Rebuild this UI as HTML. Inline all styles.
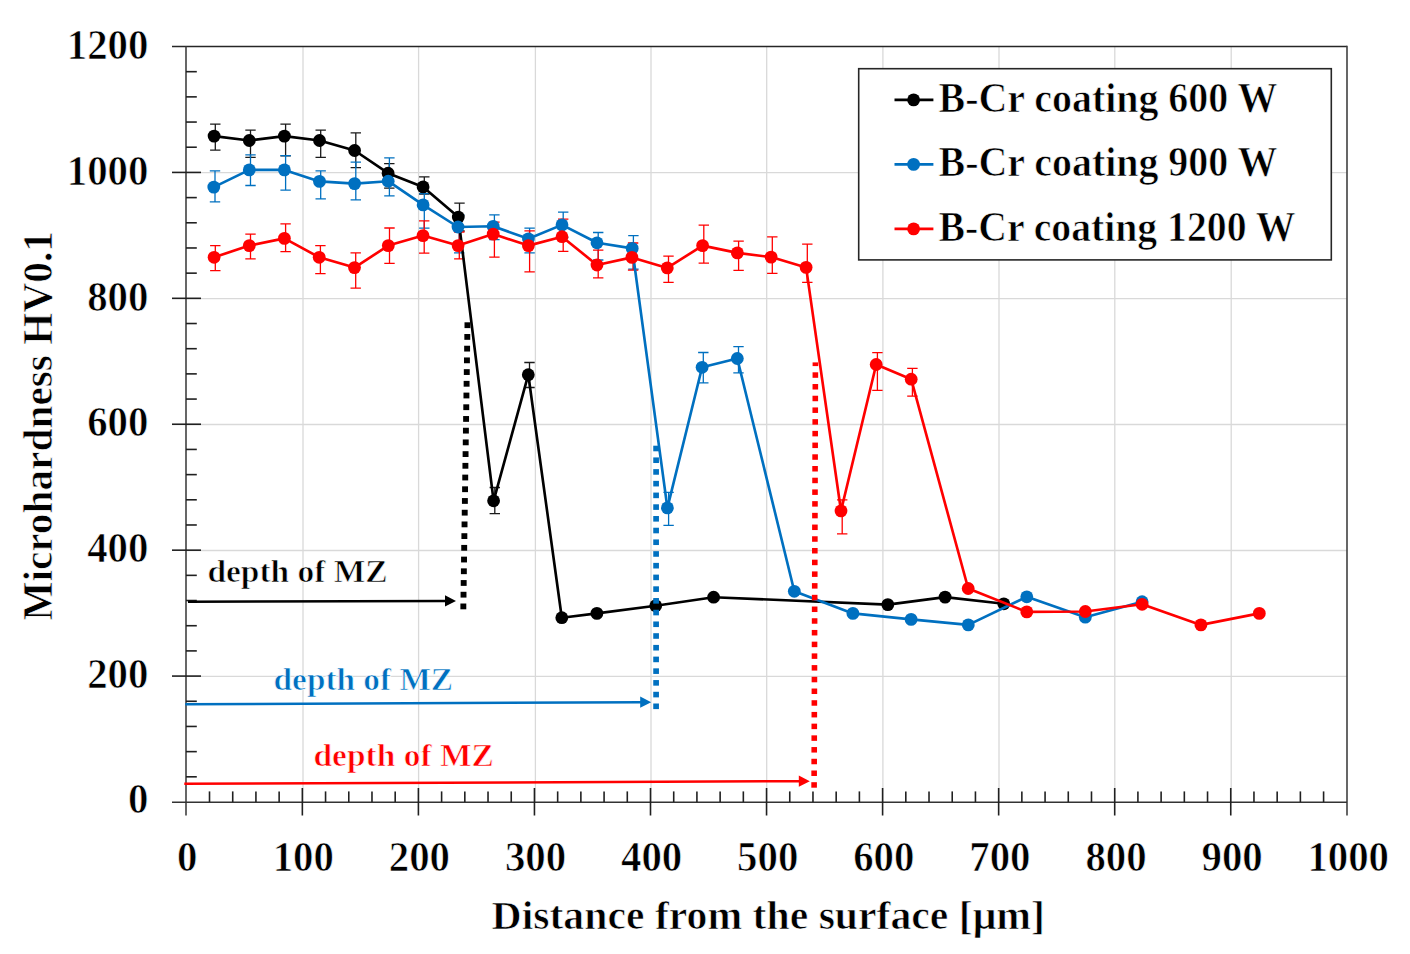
<!DOCTYPE html>
<html><head><meta charset="utf-8"><title>Microhardness chart</title>
<style>
html,body{margin:0;padding:0;background:#fff;}
svg{display:block;}
text{fill:#000;stroke:#fff;stroke-width:0.7px;}
</style></head>
<body>
<svg width="1410" height="954" viewBox="0 0 1410 954">
<rect width="1410" height="954" fill="#fff"/>
<line x1="303.0" y1="46.5" x2="303.0" y2="802.0" stroke="#D9D9D9" stroke-width="1.3"/>
<line x1="418.6" y1="46.5" x2="418.6" y2="802.0" stroke="#D9D9D9" stroke-width="1.3"/>
<line x1="535.4" y1="46.5" x2="535.4" y2="802.0" stroke="#D9D9D9" stroke-width="1.3"/>
<line x1="651.0" y1="46.5" x2="651.0" y2="802.0" stroke="#D9D9D9" stroke-width="1.3"/>
<line x1="766.7" y1="46.5" x2="766.7" y2="802.0" stroke="#D9D9D9" stroke-width="1.3"/>
<line x1="882.9" y1="46.5" x2="882.9" y2="802.0" stroke="#D9D9D9" stroke-width="1.3"/>
<line x1="999.0" y1="46.5" x2="999.0" y2="802.0" stroke="#D9D9D9" stroke-width="1.3"/>
<line x1="1114.8" y1="46.5" x2="1114.8" y2="802.0" stroke="#D9D9D9" stroke-width="1.3"/>
<line x1="1231.2" y1="46.5" x2="1231.2" y2="802.0" stroke="#D9D9D9" stroke-width="1.3"/>
<line x1="186" y1="676.4" x2="1347.0" y2="676.4" stroke="#D9D9D9" stroke-width="1.3"/>
<line x1="186" y1="550.5" x2="1347.0" y2="550.5" stroke="#D9D9D9" stroke-width="1.3"/>
<line x1="186" y1="424.5" x2="1347.0" y2="424.5" stroke="#D9D9D9" stroke-width="1.3"/>
<line x1="186" y1="298.6" x2="1347.0" y2="298.6" stroke="#D9D9D9" stroke-width="1.3"/>
<line x1="186" y1="172.7" x2="1347.0" y2="172.7" stroke="#D9D9D9" stroke-width="1.3"/>
<line x1="172" y1="46.5" x2="1347.0" y2="46.5" stroke="#262626" stroke-width="1.6"/>
<line x1="1347.0" y1="45.7" x2="1347.0" y2="815.5" stroke="#404040" stroke-width="1.6"/>
<line x1="186" y1="46.5" x2="186" y2="815.5" stroke="#404040" stroke-width="1.6"/>
<line x1="172" y1="802.3" x2="1347.0" y2="802.3" stroke="#333" stroke-width="1.6"/>
<line x1="186" y1="776.82" x2="196.8" y2="776.82" stroke="#202020" stroke-width="1.6"/>
<line x1="186" y1="751.63" x2="196.8" y2="751.63" stroke="#202020" stroke-width="1.6"/>
<line x1="186" y1="726.45" x2="196.8" y2="726.45" stroke="#202020" stroke-width="1.6"/>
<line x1="186" y1="701.27" x2="196.8" y2="701.27" stroke="#202020" stroke-width="1.6"/>
<line x1="172" y1="676.08" x2="201" y2="676.08" stroke="#202020" stroke-width="1.6"/>
<line x1="186" y1="650.9" x2="196.8" y2="650.9" stroke="#202020" stroke-width="1.6"/>
<line x1="186" y1="625.72" x2="196.8" y2="625.72" stroke="#202020" stroke-width="1.6"/>
<line x1="186" y1="600.53" x2="196.8" y2="600.53" stroke="#202020" stroke-width="1.6"/>
<line x1="186" y1="575.35" x2="196.8" y2="575.35" stroke="#202020" stroke-width="1.6"/>
<line x1="172" y1="550.17" x2="201" y2="550.17" stroke="#202020" stroke-width="1.6"/>
<line x1="186" y1="524.98" x2="196.8" y2="524.98" stroke="#202020" stroke-width="1.6"/>
<line x1="186" y1="499.8" x2="196.8" y2="499.8" stroke="#202020" stroke-width="1.6"/>
<line x1="186" y1="474.62" x2="196.8" y2="474.62" stroke="#202020" stroke-width="1.6"/>
<line x1="186" y1="449.43" x2="196.8" y2="449.43" stroke="#202020" stroke-width="1.6"/>
<line x1="172" y1="424.25" x2="201" y2="424.25" stroke="#202020" stroke-width="1.6"/>
<line x1="186" y1="399.07" x2="196.8" y2="399.07" stroke="#202020" stroke-width="1.6"/>
<line x1="186" y1="373.88" x2="196.8" y2="373.88" stroke="#202020" stroke-width="1.6"/>
<line x1="186" y1="348.7" x2="196.8" y2="348.7" stroke="#202020" stroke-width="1.6"/>
<line x1="186" y1="323.52" x2="196.8" y2="323.52" stroke="#202020" stroke-width="1.6"/>
<line x1="172" y1="298.33" x2="201" y2="298.33" stroke="#202020" stroke-width="1.6"/>
<line x1="186" y1="273.15" x2="196.8" y2="273.15" stroke="#202020" stroke-width="1.6"/>
<line x1="186" y1="247.97" x2="196.8" y2="247.97" stroke="#202020" stroke-width="1.6"/>
<line x1="186" y1="222.78" x2="196.8" y2="222.78" stroke="#202020" stroke-width="1.6"/>
<line x1="186" y1="197.6" x2="196.8" y2="197.6" stroke="#202020" stroke-width="1.6"/>
<line x1="172" y1="172.42" x2="201" y2="172.42" stroke="#202020" stroke-width="1.6"/>
<line x1="186" y1="147.23" x2="196.8" y2="147.23" stroke="#202020" stroke-width="1.6"/>
<line x1="186" y1="122.05" x2="196.8" y2="122.05" stroke="#202020" stroke-width="1.6"/>
<line x1="186" y1="96.87" x2="196.8" y2="96.87" stroke="#202020" stroke-width="1.6"/>
<line x1="186" y1="71.68" x2="196.8" y2="71.68" stroke="#202020" stroke-width="1.6"/>
<line x1="209.51" y1="791.4" x2="209.51" y2="802.0" stroke="#202020" stroke-width="1.6"/>
<line x1="232.72" y1="791.4" x2="232.72" y2="802.0" stroke="#202020" stroke-width="1.6"/>
<line x1="255.93" y1="791.4" x2="255.93" y2="802.0" stroke="#202020" stroke-width="1.6"/>
<line x1="279.14" y1="791.4" x2="279.14" y2="802.0" stroke="#202020" stroke-width="1.6"/>
<line x1="302.35" y1="788" x2="302.35" y2="815.5" stroke="#202020" stroke-width="1.6"/>
<line x1="325.56" y1="791.4" x2="325.56" y2="802.0" stroke="#202020" stroke-width="1.6"/>
<line x1="348.77" y1="791.4" x2="348.77" y2="802.0" stroke="#202020" stroke-width="1.6"/>
<line x1="371.98" y1="791.4" x2="371.98" y2="802.0" stroke="#202020" stroke-width="1.6"/>
<line x1="395.19" y1="791.4" x2="395.19" y2="802.0" stroke="#202020" stroke-width="1.6"/>
<line x1="418.4" y1="788" x2="418.4" y2="815.5" stroke="#202020" stroke-width="1.6"/>
<line x1="441.61" y1="791.4" x2="441.61" y2="802.0" stroke="#202020" stroke-width="1.6"/>
<line x1="464.82" y1="791.4" x2="464.82" y2="802.0" stroke="#202020" stroke-width="1.6"/>
<line x1="488.03" y1="791.4" x2="488.03" y2="802.0" stroke="#202020" stroke-width="1.6"/>
<line x1="511.24" y1="791.4" x2="511.24" y2="802.0" stroke="#202020" stroke-width="1.6"/>
<line x1="534.45" y1="788" x2="534.45" y2="815.5" stroke="#202020" stroke-width="1.6"/>
<line x1="557.66" y1="791.4" x2="557.66" y2="802.0" stroke="#202020" stroke-width="1.6"/>
<line x1="580.87" y1="791.4" x2="580.87" y2="802.0" stroke="#202020" stroke-width="1.6"/>
<line x1="604.08" y1="791.4" x2="604.08" y2="802.0" stroke="#202020" stroke-width="1.6"/>
<line x1="627.29" y1="791.4" x2="627.29" y2="802.0" stroke="#202020" stroke-width="1.6"/>
<line x1="650.5" y1="788" x2="650.5" y2="815.5" stroke="#202020" stroke-width="1.6"/>
<line x1="673.71" y1="791.4" x2="673.71" y2="802.0" stroke="#202020" stroke-width="1.6"/>
<line x1="696.92" y1="791.4" x2="696.92" y2="802.0" stroke="#202020" stroke-width="1.6"/>
<line x1="720.13" y1="791.4" x2="720.13" y2="802.0" stroke="#202020" stroke-width="1.6"/>
<line x1="743.34" y1="791.4" x2="743.34" y2="802.0" stroke="#202020" stroke-width="1.6"/>
<line x1="766.55" y1="788" x2="766.55" y2="815.5" stroke="#202020" stroke-width="1.6"/>
<line x1="789.76" y1="791.4" x2="789.76" y2="802.0" stroke="#202020" stroke-width="1.6"/>
<line x1="812.97" y1="791.4" x2="812.97" y2="802.0" stroke="#202020" stroke-width="1.6"/>
<line x1="836.18" y1="791.4" x2="836.18" y2="802.0" stroke="#202020" stroke-width="1.6"/>
<line x1="859.39" y1="791.4" x2="859.39" y2="802.0" stroke="#202020" stroke-width="1.6"/>
<line x1="882.6" y1="788" x2="882.6" y2="815.5" stroke="#202020" stroke-width="1.6"/>
<line x1="905.81" y1="791.4" x2="905.81" y2="802.0" stroke="#202020" stroke-width="1.6"/>
<line x1="929.02" y1="791.4" x2="929.02" y2="802.0" stroke="#202020" stroke-width="1.6"/>
<line x1="952.23" y1="791.4" x2="952.23" y2="802.0" stroke="#202020" stroke-width="1.6"/>
<line x1="975.44" y1="791.4" x2="975.44" y2="802.0" stroke="#202020" stroke-width="1.6"/>
<line x1="998.65" y1="788" x2="998.65" y2="815.5" stroke="#202020" stroke-width="1.6"/>
<line x1="1021.86" y1="791.4" x2="1021.86" y2="802.0" stroke="#202020" stroke-width="1.6"/>
<line x1="1045.07" y1="791.4" x2="1045.07" y2="802.0" stroke="#202020" stroke-width="1.6"/>
<line x1="1068.28" y1="791.4" x2="1068.28" y2="802.0" stroke="#202020" stroke-width="1.6"/>
<line x1="1091.49" y1="791.4" x2="1091.49" y2="802.0" stroke="#202020" stroke-width="1.6"/>
<line x1="1114.7" y1="788" x2="1114.7" y2="815.5" stroke="#202020" stroke-width="1.6"/>
<line x1="1137.91" y1="791.4" x2="1137.91" y2="802.0" stroke="#202020" stroke-width="1.6"/>
<line x1="1161.12" y1="791.4" x2="1161.12" y2="802.0" stroke="#202020" stroke-width="1.6"/>
<line x1="1184.33" y1="791.4" x2="1184.33" y2="802.0" stroke="#202020" stroke-width="1.6"/>
<line x1="1207.54" y1="791.4" x2="1207.54" y2="802.0" stroke="#202020" stroke-width="1.6"/>
<line x1="1230.75" y1="788" x2="1230.75" y2="815.5" stroke="#202020" stroke-width="1.6"/>
<line x1="1253.96" y1="791.4" x2="1253.96" y2="802.0" stroke="#202020" stroke-width="1.6"/>
<line x1="1277.17" y1="791.4" x2="1277.17" y2="802.0" stroke="#202020" stroke-width="1.6"/>
<line x1="1300.38" y1="791.4" x2="1300.38" y2="802.0" stroke="#202020" stroke-width="1.6"/>
<line x1="1323.59" y1="791.4" x2="1323.59" y2="802.0" stroke="#202020" stroke-width="1.6"/>
<path d="M215.3 124.2V150.1M210.10000000000002 124.2H220.5M210.10000000000002 150.1H220.5" stroke="#1a1a1a" stroke-width="1.3" fill="none"/>
<path d="M250.5 130.1V157.4M245.3 130.1H255.7M245.3 157.4H255.7" stroke="#1a1a1a" stroke-width="1.3" fill="none"/>
<path d="M285.6 124.2V155.9M280.40000000000003 124.2H290.8M280.40000000000003 155.9H290.8" stroke="#1a1a1a" stroke-width="1.3" fill="none"/>
<path d="M320.7 130.1V157.4M315.5 130.1H325.9M315.5 157.4H325.9" stroke="#1a1a1a" stroke-width="1.3" fill="none"/>
<path d="M355.8 132.9V167.6M350.6 132.9H361.0M350.6 167.6H361.0" stroke="#1a1a1a" stroke-width="1.3" fill="none"/>
<path d="M389.3 163.6V188.2M384.1 163.6H394.5M384.1 188.2H394.5" stroke="#1a1a1a" stroke-width="1.3" fill="none"/>
<path d="M424.3 176.9V194.0M419.1 176.9H429.5M419.1 194.0H429.5" stroke="#1a1a1a" stroke-width="1.3" fill="none"/>
<path d="M459.5 203.2V231.0M454.3 203.2H464.7M454.3 231.0H464.7" stroke="#1a1a1a" stroke-width="1.3" fill="none"/>
<path d="M494.8 487.5V513.6M489.6 487.5H500.0M489.6 513.6H500.0" stroke="#1a1a1a" stroke-width="1.3" fill="none"/>
<path d="M529.5 362.5V387.5M524.3 362.5H534.7M524.3 387.5H534.7" stroke="#1a1a1a" stroke-width="1.3" fill="none"/>
<path d="M215.0 170.9V201.8M209.8 170.9H220.2M209.8 201.8H220.2" stroke="#0070C0" stroke-width="1.3" fill="none"/>
<path d="M250.5 154.8V185.5M245.3 154.8H255.7M245.3 185.5H255.7" stroke="#0070C0" stroke-width="1.3" fill="none"/>
<path d="M285.6 155.6V190.1M280.40000000000003 155.6H290.8M280.40000000000003 190.1H290.8" stroke="#0070C0" stroke-width="1.3" fill="none"/>
<path d="M320.7 170.9V198.9M315.5 170.9H325.9M315.5 198.9H325.9" stroke="#0070C0" stroke-width="1.3" fill="none"/>
<path d="M355.8 162.2V199.9M350.6 162.2H361.0M350.6 199.9H361.0" stroke="#0070C0" stroke-width="1.3" fill="none"/>
<path d="M389.4 157.8V195.8M384.2 157.8H394.59999999999997M384.2 195.8H394.59999999999997" stroke="#0070C0" stroke-width="1.3" fill="none"/>
<path d="M424.3 193.6V228.1M419.1 193.6H429.5M419.1 228.1H429.5" stroke="#0070C0" stroke-width="1.3" fill="none"/>
<path d="M459.2 215.0V252.9M454.0 215.0H464.4M454.0 252.9H464.4" stroke="#0070C0" stroke-width="1.3" fill="none"/>
<path d="M494.4 214.9V239.6M489.2 214.9H499.59999999999997M489.2 239.6H499.59999999999997" stroke="#0070C0" stroke-width="1.3" fill="none"/>
<path d="M529.6 228.1V252.9M524.4 228.1H534.8000000000001M524.4 252.9H534.8000000000001" stroke="#0070C0" stroke-width="1.3" fill="none"/>
<path d="M563.2 212.1V237.5M558.0 212.1H568.4000000000001M558.0 237.5H568.4000000000001" stroke="#0070C0" stroke-width="1.3" fill="none"/>
<path d="M598.2 232.5V260.0M593.0 232.5H603.4000000000001M593.0 260.0H603.4000000000001" stroke="#0070C0" stroke-width="1.3" fill="none"/>
<path d="M633.4 235.6V269.2M628.1999999999999 235.6H638.6M628.1999999999999 269.2H638.6" stroke="#0070C0" stroke-width="1.3" fill="none"/>
<path d="M668.6 492.4V525.3M663.4 492.4H673.8000000000001M663.4 525.3H673.8000000000001" stroke="#0070C0" stroke-width="1.3" fill="none"/>
<path d="M703.3 352.5V382.8M698.0999999999999 352.5H708.5M698.0999999999999 382.8H708.5" stroke="#0070C0" stroke-width="1.3" fill="none"/>
<path d="M738.5 346.6V372.9M733.3 346.6H743.7M733.3 372.9H743.7" stroke="#0070C0" stroke-width="1.3" fill="none"/>
<path d="M215.3 245.6V270.7M210.10000000000002 245.6H220.5M210.10000000000002 270.7H220.5" stroke="#FF0000" stroke-width="1.3" fill="none"/>
<path d="M250.5 234.1V258.9M245.3 234.1H255.7M245.3 258.9H255.7" stroke="#FF0000" stroke-width="1.3" fill="none"/>
<path d="M285.6 223.9V251.6M280.40000000000003 223.9H290.8M280.40000000000003 251.6H290.8" stroke="#FF0000" stroke-width="1.3" fill="none"/>
<path d="M320.4 245.6V273.7M315.2 245.6H325.59999999999997M315.2 273.7H325.59999999999997" stroke="#FF0000" stroke-width="1.3" fill="none"/>
<path d="M355.7 252.9V288.2M350.5 252.9H360.9M350.5 288.2H360.9" stroke="#FF0000" stroke-width="1.3" fill="none"/>
<path d="M389.5 228.0V263.3M384.3 228.0H394.7M384.3 263.3H394.7" stroke="#FF0000" stroke-width="1.3" fill="none"/>
<path d="M424.2 220.9V253.1M419.0 220.9H429.4M419.0 253.1H429.4" stroke="#FF0000" stroke-width="1.3" fill="none"/>
<path d="M459.3 232.0V258.9M454.1 232.0H464.5M454.1 258.9H464.5" stroke="#FF0000" stroke-width="1.3" fill="none"/>
<path d="M494.4 222.2V257.1M489.2 222.2H499.59999999999997M489.2 257.1H499.59999999999997" stroke="#FF0000" stroke-width="1.3" fill="none"/>
<path d="M529.6 230.9V271.8M524.4 230.9H534.8000000000001M524.4 271.8H534.8000000000001" stroke="#FF0000" stroke-width="1.3" fill="none"/>
<path d="M563.2 219.2V251.4M558.0 219.2H568.4000000000001M558.0 251.4H568.4000000000001" stroke="#FF0000" stroke-width="1.3" fill="none"/>
<path d="M598.2 250.1V277.8M593.0 250.1H603.4000000000001M593.0 277.8H603.4000000000001" stroke="#FF0000" stroke-width="1.3" fill="none"/>
<path d="M633.1 243.0V270.2M627.9 243.0H638.3000000000001M627.9 270.2H638.3000000000001" stroke="#FF0000" stroke-width="1.3" fill="none"/>
<path d="M668.5 256.1V282.3M663.3 256.1H673.7M663.3 282.3H673.7" stroke="#FF0000" stroke-width="1.3" fill="none"/>
<path d="M703.8 225.2V263.2M698.5999999999999 225.2H709.0M698.5999999999999 263.2H709.0" stroke="#FF0000" stroke-width="1.3" fill="none"/>
<path d="M738.6 241.2V270.4M733.4 241.2H743.8000000000001M733.4 270.4H743.8000000000001" stroke="#FF0000" stroke-width="1.3" fill="none"/>
<path d="M772.3 236.9V273.4M767.0999999999999 236.9H777.5M767.0999999999999 273.4H777.5" stroke="#FF0000" stroke-width="1.3" fill="none"/>
<path d="M807.3 244.2V282.3M802.0999999999999 244.2H812.5M802.0999999999999 282.3H812.5" stroke="#FF0000" stroke-width="1.3" fill="none"/>
<path d="M842.2 499.8V533.9M837.0 499.8H847.4000000000001M837.0 533.9H847.4000000000001" stroke="#FF0000" stroke-width="1.3" fill="none"/>
<path d="M877.4 352.6V390.3M872.1999999999999 352.6H882.6M872.1999999999999 390.3H882.6" stroke="#FF0000" stroke-width="1.3" fill="none"/>
<path d="M912.4 368.3V396.2M907.1999999999999 368.3H917.6M907.1999999999999 396.2H917.6" stroke="#FF0000" stroke-width="1.3" fill="none"/>
<path d="M214.1 136.1 L249.3 140.5 L284.4 136.1 L319.5 140.5 L354.6 150.5 L388.1 173.2 L423.1 186.9 L458.3 217.1 L493.6 500.8 L528.3 374.7 L561.8 617.7 L596.9 613.4 L655.7 605.7 L713.6 597.2 L887.8 604.6 L945.1 597.1 L1003.8 603.8" stroke="#000000" stroke-width="2.65" fill="none" stroke-linejoin="round"/>
<circle cx="214.1" cy="136.1" r="6.4" fill="#000000"/>
<circle cx="249.3" cy="140.5" r="6.4" fill="#000000"/>
<circle cx="284.4" cy="136.1" r="6.4" fill="#000000"/>
<circle cx="319.5" cy="140.5" r="6.4" fill="#000000"/>
<circle cx="354.6" cy="150.5" r="6.4" fill="#000000"/>
<circle cx="388.1" cy="173.2" r="6.4" fill="#000000"/>
<circle cx="423.1" cy="186.9" r="6.4" fill="#000000"/>
<circle cx="458.3" cy="217.1" r="6.4" fill="#000000"/>
<circle cx="493.6" cy="500.8" r="6.4" fill="#000000"/>
<circle cx="528.3" cy="374.7" r="6.4" fill="#000000"/>
<circle cx="561.8" cy="617.7" r="6.4" fill="#000000"/>
<circle cx="596.9" cy="613.4" r="6.4" fill="#000000"/>
<circle cx="655.7" cy="605.7" r="6.4" fill="#000000"/>
<circle cx="713.6" cy="597.2" r="6.4" fill="#000000"/>
<circle cx="887.8" cy="604.6" r="6.4" fill="#000000"/>
<circle cx="945.1" cy="597.1" r="6.4" fill="#000000"/>
<circle cx="1003.8" cy="603.8" r="6.4" fill="#000000"/>
<path d="M213.8 187.1 L249.3 169.9 L284.4 169.9 L319.5 181.4 L354.6 183.6 L388.2 181.2 L423.1 204.9 L458.0 227.0 L493.2 226.3 L528.4 238.8 L562.0 224.9 L597.0 242.8 L632.2 248.4 L667.4 507.9 L702.1 367.3 L737.3 358.5 L794.3 591.3 L852.9 613.4 L911.1 619.4 L968.3 624.9 L1026.8 596.8 L1085.3 617.2 L1142.1 601.7" stroke="#0070C0" stroke-width="2.65" fill="none" stroke-linejoin="round"/>
<circle cx="213.8" cy="187.1" r="6.4" fill="#0070C0"/>
<circle cx="249.3" cy="169.9" r="6.4" fill="#0070C0"/>
<circle cx="284.4" cy="169.9" r="6.4" fill="#0070C0"/>
<circle cx="319.5" cy="181.4" r="6.4" fill="#0070C0"/>
<circle cx="354.6" cy="183.6" r="6.4" fill="#0070C0"/>
<circle cx="388.2" cy="181.2" r="6.4" fill="#0070C0"/>
<circle cx="423.1" cy="204.9" r="6.4" fill="#0070C0"/>
<circle cx="458.0" cy="227.0" r="6.4" fill="#0070C0"/>
<circle cx="493.2" cy="226.3" r="6.4" fill="#0070C0"/>
<circle cx="528.4" cy="238.8" r="6.4" fill="#0070C0"/>
<circle cx="562.0" cy="224.9" r="6.4" fill="#0070C0"/>
<circle cx="597.0" cy="242.8" r="6.4" fill="#0070C0"/>
<circle cx="632.2" cy="248.4" r="6.4" fill="#0070C0"/>
<circle cx="667.4" cy="507.9" r="6.4" fill="#0070C0"/>
<circle cx="702.1" cy="367.3" r="6.4" fill="#0070C0"/>
<circle cx="737.3" cy="358.5" r="6.4" fill="#0070C0"/>
<circle cx="794.3" cy="591.3" r="6.4" fill="#0070C0"/>
<circle cx="852.9" cy="613.4" r="6.4" fill="#0070C0"/>
<circle cx="911.1" cy="619.4" r="6.4" fill="#0070C0"/>
<circle cx="968.3" cy="624.9" r="6.4" fill="#0070C0"/>
<circle cx="1026.8" cy="596.8" r="6.4" fill="#0070C0"/>
<circle cx="1085.3" cy="617.2" r="6.4" fill="#0070C0"/>
<circle cx="1142.1" cy="601.7" r="6.4" fill="#0070C0"/>
<path d="M214.1 257.3 L249.3 245.6 L284.4 238.4 L319.2 257.3 L354.5 267.6 L388.3 245.6 L423.0 235.6 L458.1 245.6 L493.2 234.1 L528.4 245.6 L562.0 236.7 L597.0 265.0 L631.9 257.4 L667.3 267.9 L702.6 245.6 L737.4 252.9 L771.1 257.1 L806.1 267.4 L841.0 510.9 L876.2 364.5 L911.2 379.2 L968.2 588.5 L1026.8 611.9 L1085.3 611.5 L1142.1 604.3 L1200.9 624.9 L1259.3 613.4" stroke="#FF0000" stroke-width="2.65" fill="none" stroke-linejoin="round"/>
<circle cx="214.1" cy="257.3" r="6.4" fill="#FF0000"/>
<circle cx="249.3" cy="245.6" r="6.4" fill="#FF0000"/>
<circle cx="284.4" cy="238.4" r="6.4" fill="#FF0000"/>
<circle cx="319.2" cy="257.3" r="6.4" fill="#FF0000"/>
<circle cx="354.5" cy="267.6" r="6.4" fill="#FF0000"/>
<circle cx="388.3" cy="245.6" r="6.4" fill="#FF0000"/>
<circle cx="423.0" cy="235.6" r="6.4" fill="#FF0000"/>
<circle cx="458.1" cy="245.6" r="6.4" fill="#FF0000"/>
<circle cx="493.2" cy="234.1" r="6.4" fill="#FF0000"/>
<circle cx="528.4" cy="245.6" r="6.4" fill="#FF0000"/>
<circle cx="562.0" cy="236.7" r="6.4" fill="#FF0000"/>
<circle cx="597.0" cy="265.0" r="6.4" fill="#FF0000"/>
<circle cx="631.9" cy="257.4" r="6.4" fill="#FF0000"/>
<circle cx="667.3" cy="267.9" r="6.4" fill="#FF0000"/>
<circle cx="702.6" cy="245.6" r="6.4" fill="#FF0000"/>
<circle cx="737.4" cy="252.9" r="6.4" fill="#FF0000"/>
<circle cx="771.1" cy="257.1" r="6.4" fill="#FF0000"/>
<circle cx="806.1" cy="267.4" r="6.4" fill="#FF0000"/>
<circle cx="841.0" cy="510.9" r="6.4" fill="#FF0000"/>
<circle cx="876.2" cy="364.5" r="6.4" fill="#FF0000"/>
<circle cx="911.2" cy="379.2" r="6.4" fill="#FF0000"/>
<circle cx="968.2" cy="588.5" r="6.4" fill="#FF0000"/>
<circle cx="1026.8" cy="611.9" r="6.4" fill="#FF0000"/>
<circle cx="1085.3" cy="611.5" r="6.4" fill="#FF0000"/>
<circle cx="1142.1" cy="604.3" r="6.4" fill="#FF0000"/>
<circle cx="1200.9" cy="624.9" r="6.4" fill="#FF0000"/>
<circle cx="1259.3" cy="613.4" r="6.4" fill="#FF0000"/>
<rect x="464.51" y="322.3" width="5.9" height="5.8" fill="#000000"/>
<rect x="464.34" y="334.02" width="5.9" height="5.8" fill="#000000"/>
<rect x="464.16" y="345.73" width="5.9" height="5.8" fill="#000000"/>
<rect x="463.99" y="357.45" width="5.9" height="5.8" fill="#000000"/>
<rect x="463.82" y="369.17" width="5.9" height="5.8" fill="#000000"/>
<rect x="463.65" y="380.88" width="5.9" height="5.8" fill="#000000"/>
<rect x="463.48" y="392.6" width="5.9" height="5.8" fill="#000000"/>
<rect x="463.31" y="404.32" width="5.9" height="5.8" fill="#000000"/>
<rect x="463.14" y="416.04" width="5.9" height="5.8" fill="#000000"/>
<rect x="462.96" y="427.75" width="5.9" height="5.8" fill="#000000"/>
<rect x="462.79" y="439.47" width="5.9" height="5.8" fill="#000000"/>
<rect x="462.62" y="451.19" width="5.9" height="5.8" fill="#000000"/>
<rect x="462.45" y="462.9" width="5.9" height="5.8" fill="#000000"/>
<rect x="462.28" y="474.62" width="5.9" height="5.8" fill="#000000"/>
<rect x="462.11" y="486.34" width="5.9" height="5.8" fill="#000000"/>
<rect x="461.94" y="498.06" width="5.9" height="5.8" fill="#000000"/>
<rect x="461.77" y="509.77" width="5.9" height="5.8" fill="#000000"/>
<rect x="461.59" y="521.49" width="5.9" height="5.8" fill="#000000"/>
<rect x="461.42" y="533.21" width="5.9" height="5.8" fill="#000000"/>
<rect x="461.25" y="544.92" width="5.9" height="5.8" fill="#000000"/>
<rect x="461.08" y="556.64" width="5.9" height="5.8" fill="#000000"/>
<rect x="460.91" y="568.36" width="5.9" height="5.8" fill="#000000"/>
<rect x="460.74" y="580.07" width="5.9" height="5.8" fill="#000000"/>
<rect x="460.57" y="591.79" width="5.9" height="5.8" fill="#000000"/>
<rect x="460.39" y="603.51" width="5.9" height="5.8" fill="#000000"/>
<rect x="653.25" y="445.7" width="5.7" height="5.6" fill="#0070C0"/>
<rect x="653.25" y="457.42" width="5.7" height="5.6" fill="#0070C0"/>
<rect x="653.25" y="469.14" width="5.7" height="5.6" fill="#0070C0"/>
<rect x="653.25" y="480.85" width="5.7" height="5.6" fill="#0070C0"/>
<rect x="653.25" y="492.57" width="5.7" height="5.6" fill="#0070C0"/>
<rect x="653.25" y="504.29" width="5.7" height="5.6" fill="#0070C0"/>
<rect x="653.25" y="516.01" width="5.7" height="5.6" fill="#0070C0"/>
<rect x="653.25" y="527.73" width="5.7" height="5.6" fill="#0070C0"/>
<rect x="653.25" y="539.44" width="5.7" height="5.6" fill="#0070C0"/>
<rect x="653.25" y="551.16" width="5.7" height="5.6" fill="#0070C0"/>
<rect x="653.25" y="562.88" width="5.7" height="5.6" fill="#0070C0"/>
<rect x="653.25" y="574.6" width="5.7" height="5.6" fill="#0070C0"/>
<rect x="653.25" y="586.32" width="5.7" height="5.6" fill="#0070C0"/>
<rect x="653.25" y="598.03" width="5.7" height="5.6" fill="#0070C0"/>
<rect x="653.25" y="609.75" width="5.7" height="5.6" fill="#0070C0"/>
<rect x="653.25" y="621.47" width="5.7" height="5.6" fill="#0070C0"/>
<rect x="653.25" y="633.19" width="5.7" height="5.6" fill="#0070C0"/>
<rect x="653.25" y="644.91" width="5.7" height="5.6" fill="#0070C0"/>
<rect x="653.25" y="656.62" width="5.7" height="5.6" fill="#0070C0"/>
<rect x="653.25" y="668.34" width="5.7" height="5.6" fill="#0070C0"/>
<rect x="653.25" y="680.06" width="5.7" height="5.6" fill="#0070C0"/>
<rect x="653.25" y="691.78" width="5.7" height="5.6" fill="#0070C0"/>
<rect x="653.25" y="703.5" width="5.7" height="5.6" fill="#0070C0"/>
<rect x="812.59" y="362.4" width="5.6" height="3.7" fill="#FF0000"/>
<rect x="812.56" y="372.31" width="5.6" height="5.5" fill="#FF0000"/>
<rect x="812.53" y="384.02" width="5.6" height="5.5" fill="#FF0000"/>
<rect x="812.49" y="395.73" width="5.6" height="5.5" fill="#FF0000"/>
<rect x="812.45" y="407.44" width="5.6" height="5.5" fill="#FF0000"/>
<rect x="812.42" y="419.16" width="5.6" height="5.5" fill="#FF0000"/>
<rect x="812.38" y="430.87" width="5.6" height="5.5" fill="#FF0000"/>
<rect x="812.35" y="442.58" width="5.6" height="5.5" fill="#FF0000"/>
<rect x="812.31" y="454.29" width="5.6" height="5.5" fill="#FF0000"/>
<rect x="812.27" y="466.0" width="5.6" height="5.5" fill="#FF0000"/>
<rect x="812.24" y="477.71" width="5.6" height="5.5" fill="#FF0000"/>
<rect x="812.2" y="489.42" width="5.6" height="5.5" fill="#FF0000"/>
<rect x="812.17" y="501.13" width="5.6" height="5.5" fill="#FF0000"/>
<rect x="812.13" y="512.84" width="5.6" height="5.5" fill="#FF0000"/>
<rect x="812.1" y="524.55" width="5.6" height="5.5" fill="#FF0000"/>
<rect x="812.06" y="536.26" width="5.6" height="5.5" fill="#FF0000"/>
<rect x="812.02" y="547.98" width="5.6" height="5.5" fill="#FF0000"/>
<rect x="811.99" y="559.69" width="5.6" height="5.5" fill="#FF0000"/>
<rect x="811.95" y="571.4" width="5.6" height="5.5" fill="#FF0000"/>
<rect x="811.92" y="583.11" width="5.6" height="5.5" fill="#FF0000"/>
<rect x="811.88" y="594.82" width="5.6" height="5.5" fill="#FF0000"/>
<rect x="811.85" y="606.53" width="5.6" height="5.5" fill="#FF0000"/>
<rect x="811.81" y="618.24" width="5.6" height="5.5" fill="#FF0000"/>
<rect x="811.77" y="629.95" width="5.6" height="5.5" fill="#FF0000"/>
<rect x="811.74" y="641.66" width="5.6" height="5.5" fill="#FF0000"/>
<rect x="811.7" y="653.38" width="5.6" height="5.5" fill="#FF0000"/>
<rect x="811.67" y="665.09" width="5.6" height="5.5" fill="#FF0000"/>
<rect x="811.63" y="676.8" width="5.6" height="5.5" fill="#FF0000"/>
<rect x="811.59" y="688.51" width="5.6" height="5.5" fill="#FF0000"/>
<rect x="811.56" y="700.22" width="5.6" height="5.5" fill="#FF0000"/>
<rect x="811.52" y="711.93" width="5.6" height="5.5" fill="#FF0000"/>
<rect x="811.49" y="723.64" width="5.6" height="5.5" fill="#FF0000"/>
<rect x="811.45" y="735.35" width="5.6" height="5.5" fill="#FF0000"/>
<rect x="811.42" y="747.06" width="5.6" height="5.5" fill="#FF0000"/>
<rect x="811.38" y="758.77" width="5.6" height="5.5" fill="#FF0000"/>
<rect x="811.34" y="770.49" width="5.6" height="5.5" fill="#FF0000"/>
<rect x="811.31" y="782.2" width="5.6" height="5.5" fill="#FF0000"/>
<line x1="188.0" y1="601.7" x2="446.0" y2="600.9" stroke="#000000" stroke-width="2.5"/>
<path d="M456.0 600.9L445.0 595.3L445.0 606.5Z" fill="#000000"/>
<line x1="185.3" y1="704.3" x2="641.2" y2="702.2" stroke="#0070C0" stroke-width="2.5"/>
<path d="M651.2 702.2L640.2 696.6L640.2 707.8000000000001Z" fill="#0070C0"/>
<line x1="184.3" y1="783.7" x2="799.8" y2="781.2" stroke="#FF0000" stroke-width="2.5"/>
<path d="M809.8 781.2L798.8 775.6L798.8 786.8000000000001Z" fill="#FF0000"/>
<text x="148.4" y="813.4" font-family="Liberation Serif" font-weight="bold" font-size="42" text-anchor="end" textLength="20.4" lengthAdjust="spacingAndGlyphs">0</text>
<text x="148.4" y="687.7" font-family="Liberation Serif" font-weight="bold" font-size="42" text-anchor="end" textLength="61.199999999999996" lengthAdjust="spacingAndGlyphs">200</text>
<text x="148.4" y="562.0" font-family="Liberation Serif" font-weight="bold" font-size="42" text-anchor="end" textLength="61.199999999999996" lengthAdjust="spacingAndGlyphs">400</text>
<text x="148.4" y="436.3" font-family="Liberation Serif" font-weight="bold" font-size="42" text-anchor="end" textLength="61.199999999999996" lengthAdjust="spacingAndGlyphs">600</text>
<text x="148.4" y="310.7" font-family="Liberation Serif" font-weight="bold" font-size="42" text-anchor="end" textLength="61.199999999999996" lengthAdjust="spacingAndGlyphs">800</text>
<text x="148.4" y="185.0" font-family="Liberation Serif" font-weight="bold" font-size="42" text-anchor="end" textLength="81.6" lengthAdjust="spacingAndGlyphs">1000</text>
<text x="148.4" y="59.3" font-family="Liberation Serif" font-weight="bold" font-size="42" text-anchor="end" textLength="81.6" lengthAdjust="spacingAndGlyphs">1200</text>
<text x="187.2" y="870.6" font-family="Liberation Serif" font-weight="bold" font-size="42" text-anchor="middle" textLength="20.4" lengthAdjust="spacingAndGlyphs">0</text>
<text x="303.3" y="870.6" font-family="Liberation Serif" font-weight="bold" font-size="42" text-anchor="middle" textLength="61.199999999999996" lengthAdjust="spacingAndGlyphs">100</text>
<text x="419.4" y="870.6" font-family="Liberation Serif" font-weight="bold" font-size="42" text-anchor="middle" textLength="61.199999999999996" lengthAdjust="spacingAndGlyphs">200</text>
<text x="535.5" y="870.6" font-family="Liberation Serif" font-weight="bold" font-size="42" text-anchor="middle" textLength="61.199999999999996" lengthAdjust="spacingAndGlyphs">300</text>
<text x="651.6" y="870.6" font-family="Liberation Serif" font-weight="bold" font-size="42" text-anchor="middle" textLength="61.199999999999996" lengthAdjust="spacingAndGlyphs">400</text>
<text x="767.7" y="870.6" font-family="Liberation Serif" font-weight="bold" font-size="42" text-anchor="middle" textLength="61.199999999999996" lengthAdjust="spacingAndGlyphs">500</text>
<text x="883.8" y="870.6" font-family="Liberation Serif" font-weight="bold" font-size="42" text-anchor="middle" textLength="61.199999999999996" lengthAdjust="spacingAndGlyphs">600</text>
<text x="999.9" y="870.6" font-family="Liberation Serif" font-weight="bold" font-size="42" text-anchor="middle" textLength="61.199999999999996" lengthAdjust="spacingAndGlyphs">700</text>
<text x="1116.0" y="870.6" font-family="Liberation Serif" font-weight="bold" font-size="42" text-anchor="middle" textLength="61.199999999999996" lengthAdjust="spacingAndGlyphs">800</text>
<text x="1232.1" y="870.6" font-family="Liberation Serif" font-weight="bold" font-size="42" text-anchor="middle" textLength="61.199999999999996" lengthAdjust="spacingAndGlyphs">900</text>
<text x="1348.2" y="870.6" font-family="Liberation Serif" font-weight="bold" font-size="42" text-anchor="middle" textLength="81.6" lengthAdjust="spacingAndGlyphs">1000</text>
<text x="491.5" y="928.5" font-family="Liberation Serif" font-weight="bold" font-size="41" textLength="553.5" lengthAdjust="spacingAndGlyphs">Distance from the surface [μm]</text>
<text transform="translate(52 620.6) rotate(-90)" font-family="Liberation Serif" font-weight="bold" font-size="41.5" textLength="389.5" lengthAdjust="spacingAndGlyphs">Microhardness HV0.1</text>
<text x="207.4" y="581.5" font-family="Liberation Serif" font-weight="bold" font-size="32.5" fill="#000000" textLength="180.3" lengthAdjust="spacingAndGlyphs">depth of MZ</text>
<text x="273.6" y="689.7" font-family="Liberation Serif" font-weight="bold" font-size="32.5" style="fill:#0070C0" textLength="179.5" lengthAdjust="spacingAndGlyphs">depth of MZ</text>
<text x="313.5" y="766" font-family="Liberation Serif" font-weight="bold" font-size="32.5" style="fill:#FF0000" textLength="180.3" lengthAdjust="spacingAndGlyphs">depth of MZ</text>
<rect x="858.7" y="68.7" width="472.6" height="191.2" fill="#fff" stroke="#262626" stroke-width="1.6"/>
<line x1="894.5" y1="99.9" x2="933.4" y2="99.9" stroke="#000000" stroke-width="2.8"/>
<circle cx="913.6" cy="99.9" r="6.4" fill="#000000"/>
<text x="938.6" y="111.7" font-family="Liberation Serif" font-weight="bold" font-size="42" textLength="338.8" lengthAdjust="spacingAndGlyphs">B-Cr coating 600 W</text>
<line x1="894.5" y1="164.4" x2="933.4" y2="164.4" stroke="#0070C0" stroke-width="2.8"/>
<circle cx="913.6" cy="164.4" r="6.4" fill="#0070C0"/>
<text x="938.6" y="176.2" font-family="Liberation Serif" font-weight="bold" font-size="42" textLength="338.8" lengthAdjust="spacingAndGlyphs">B-Cr coating 900 W</text>
<line x1="894.5" y1="228.9" x2="933.4" y2="228.9" stroke="#FF0000" stroke-width="2.8"/>
<circle cx="913.6" cy="228.9" r="6.4" fill="#FF0000"/>
<text x="938.6" y="240.7" font-family="Liberation Serif" font-weight="bold" font-size="42" textLength="356.8" lengthAdjust="spacingAndGlyphs">B-Cr coating 1200 W</text>
</svg>
</body></html>
